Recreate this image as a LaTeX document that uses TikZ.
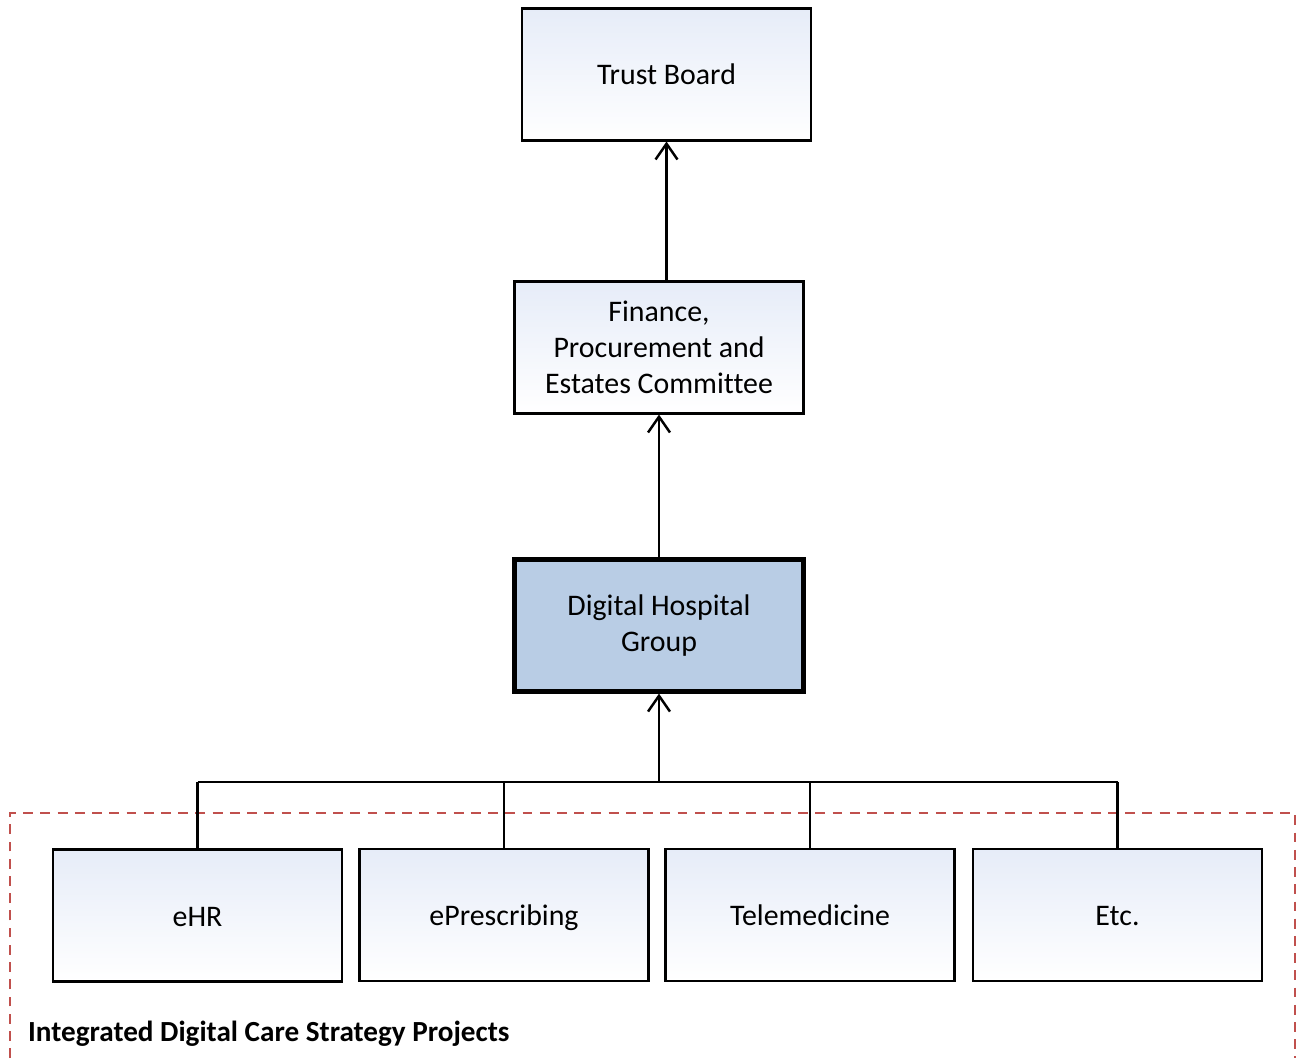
\documentclass[tikz,border=0pt]{standalone}
\usepackage{fontspec}
\setmainfont{Carlito}[Ligatures=NoCommon]
\usepackage{xcolor}
\usepackage{tikz}
\usetikzlibrary{calc,arrows.meta}
\definecolor{BoxTop}{RGB}{230, 236, 248}
\definecolor{GroupFill}{RGB}{185, 205, 229}
\definecolor{ProjectRed}{RGB}{192, 80, 77}

\tikzset{
    unitbox/.style={draw, line width=1.2pt, top color=BoxTop, bottom color=white,
        minimum width=5.78cm, minimum height=2.64cm, align=center,
        font=\fontsize{17}{20.5}\selectfont},
    projectbox/.style={unitbox, text height=14pt, text depth=1.6pt},
    groupbox/.style={unitbox, line width=2.4pt, fill=GroupFill, top color=GroupFill, bottom color=GroupFill},
    link/.style={line width=1.2pt},
    >={Straight Barb[length=9pt, width=12.5pt, line width=1.4pt]}
}

\begin{document}
\begin{tikzpicture}[x=0.02cm, y=-0.02cm]
        \useasboundingbox (0,0) rectangle (1301,1058);

        % Governance chain
        \node[unitbox] (trust) at (666.5,74.5) {Trust Board};
        \node[unitbox] (finance) at (659,347.5) {Finance,\\Procurement and\\Estates Committee};
        \node[groupbox] (dhg) at (659,625.5) {Digital Hospital\\Group};

        % Projects
        \node[projectbox] (ehr) at (197.5,915.5) {eHR};
        \node[projectbox] (epresc) at (504,915) {ePrescribing};
        \node[projectbox] (telemed) at (810,915) {Telemedicine};
        \node[projectbox] (etc) at (1117.5,915) {Etc.};

        % Project boundary
        \draw[ProjectRed, line width=1.1pt, dash pattern=on 5.6pt off 4.2pt] (10,1058) -- (10,813) -- (1295,813) -- (1295,1058);
        \node[anchor=west, font=\fontsize{16.6}{19}\selectfont\bfseries] (label) at (22,1034) {Integrated Digital Care Strategy Projects};

        % Reporting lines
        \coordinate (bus) at (659,782);
        \draw[link, line width=1.6pt] (ehr.north |- bus) -- (etc.north |- bus);
        \draw[link] (ehr.north) -- (ehr.north |- bus);
        \draw[link] (epresc.north) -- (epresc.north |- bus);
        \draw[link] (telemed.north) -- (telemed.north |- bus);
        \draw[link] (etc.north) -- (etc.north |- bus);
        \draw[link, ->] (bus) -- (dhg.south);
        \draw[link, ->] (dhg.north) -- (finance.south);
        \draw[link, ->] (finance.north -| trust.south) -- (trust.south);
    \end{tikzpicture}
\end{document}
